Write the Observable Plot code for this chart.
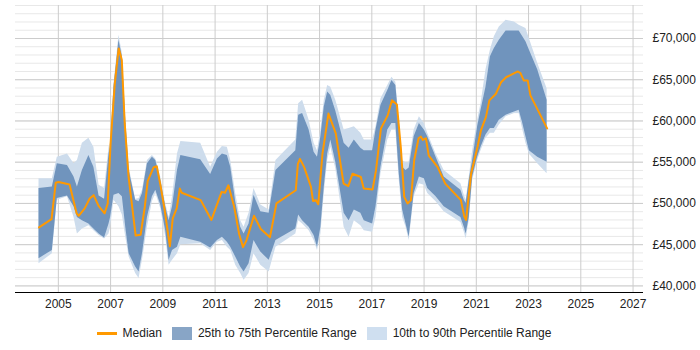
<!DOCTYPE html>
<html><head><meta charset="utf-8">
<script src="https://cdn.jsdelivr.net/npm/d3@7"></script>
<script src="https://cdn.jsdelivr.net/npm/@observablehq/plot@0.6"></script>
<style>
body{margin:0;background:#fff;font-family:"Liberation Sans",Arial,sans-serif;}
#legend{display:flex;justify-content:center;align-items:center;width:628px;margin-left:15px;height:30px;font-size:12px;color:#222;}
#legend .sw{display:inline-block;width:20px;height:13px;margin-right:6px;}
#legend .ln{height:3px;background:#ff9900;}
#legend .tx{margin-right:10px;}
</style></head>
<body>
<div id="chart"></div>
<div id="legend">
<span class="sw ln"></span><span class="tx">Median</span>
<span class="sw" style="background:#88a5c6"></span><span class="tx">25th to 75th Percentile Range</span>
<span class="sw" style="background:#cfdff0"></span><span class="tx">10th to 90th Percentile Range</span>
</div>
<script>
const medianYears = [2004.26,2004.74,2004.90,2005.01,2005.43,2005.70,2005.78,2006.01,2006.20,2006.35,2006.54,2006.77,2006.89,2007.00,2007.16,2007.31,2007.43,2007.54,2007.69,2007.96,2008.15,2008.31,2008.42,2008.65,2008.77,2008.92,2009.07,2009.27,2009.38,2009.53,2009.65,2009.72,2010.45,2010.57,2010.86,2011.25,2011.38,2011.51,2011.73,2011.92,2012.07,2012.20,2012.49,2012.75,2013.10,2013.35,2014.09,2014.17,2014.25,2014.41,2014.67,2014.75,2014.86,2014.95,2015.11,2015.34,2015.62,2015.92,2016.10,2016.26,2016.58,2016.69,2017.03,2017.16,2017.35,2017.61,2017.77,2017.96,2018.11,2018.24,2018.37,2018.50,2018.62,2018.79,2018.88,2018.95,2019.07,2019.18,2019.52,2019.81,2020.41,2020.54,2020.61,2020.80,2021.05,2021.18,2021.37,2021.50,2021.75,2021.95,2022.14,2022.59,2022.69,2022.82,2022.97,2023.07,2023.71];
const median = [47100,48100,52500,52600,52300,48800,48500,49400,50600,51000,49700,48800,50000,57300,64500,68800,67400,59700,53200,46100,46200,49600,52700,54400,54500,52000,49200,44800,48200,49400,51800,51300,50400,49700,48000,51400,51300,52200,49600,46300,44700,45500,48500,46900,45900,50000,51600,54800,55400,54400,52000,50300,50400,49900,56000,60900,58500,52400,52100,53600,53200,51800,51700,54000,59100,60700,62500,62000,56800,50800,50000,50400,55200,57900,58100,57700,57900,55800,54400,52400,50400,48400,48000,53600,56900,58900,60500,62500,63300,64700,65300,66000,65800,64900,64900,63100,59100];

const bandYears = [2004.26,2004.77,2004.96,2005.35,2005.60,2005.73,2005.92,2006.17,2006.36,2006.56,2006.77,2006.94,2007.00,2007.13,2007.32,2007.45,2007.58,2007.71,2007.96,2008.09,2008.22,2008.41,2008.60,2008.73,2008.92,2009.11,2009.24,2009.37,2009.56,2009.69,2010.45,2010.83,2011.09,2011.28,2011.47,2011.60,2011.79,2011.98,2012.11,2012.30,2012.49,2012.75,2013.07,2013.33,2014.09,2014.20,2014.35,2014.60,2014.79,2014.92,2015.05,2015.18,2015.31,2015.43,2015.62,2015.94,2016.13,2016.33,2016.58,2016.71,2017.03,2017.16,2017.35,2017.61,2017.77,2017.92,2018.05,2018.18,2018.31,2018.43,2018.62,2018.82,2019.01,2019.14,2019.46,2019.77,2020.41,2020.54,2020.61,2020.73,2020.86,2021.05,2021.18,2021.37,2021.54,2021.69,2021.88,2022.14,2022.46,2022.64,2022.78,2022.90,2023.03,2023.35,2023.71];
const p90 = [53000,53000,55600,56000,54800,55200,57300,57900,56800,52200,51800,56800,57300,64500,70400,68200,60500,54400,50500,50600,51600,55200,55800,55400,53200,50000,48300,50800,56000,57500,57300,54400,56200,56900,56800,55200,51200,47900,47100,48800,51800,49800,49200,55200,57700,62100,62500,60100,57300,56400,58900,62500,64300,64100,62500,58900,59100,59300,58500,57700,57700,59300,62700,64300,65300,64700,60100,55200,54900,55000,58900,60500,59700,58500,56000,54000,52400,51000,50400,53200,56400,60100,62100,66200,68600,70200,71400,72200,72000,71600,71400,71200,70000,67000,63900];
const p75 = [51800,52000,54800,54600,53200,52000,54000,55800,54400,50900,50500,56000,56800,64100,69800,67800,60100,54000,50400,50200,51200,54800,55600,55200,52800,49600,47900,49600,54000,55800,55300,53500,55400,56000,55800,54400,50200,47100,46300,47500,51000,49000,48800,54000,56400,60700,60900,58900,56200,55600,58100,61700,63500,63100,61200,57300,56700,57700,56700,56400,56400,58900,61900,63700,64900,64300,59700,54400,54000,54300,58100,59700,58900,58100,55600,53200,51600,50400,50000,52800,55200,59300,61300,64100,67800,68800,69800,70900,70900,70900,70200,69600,68600,66200,62500];
const p25 = [43300,44300,50600,50900,49600,48300,47900,47500,46900,46300,45800,47500,48300,51000,51200,50800,47100,43900,42300,41700,43900,48300,50800,51600,49800,46700,43100,44300,44700,45900,45300,44600,45500,45900,45300,44700,43500,42300,41700,42700,45500,44100,43100,45500,46900,48600,47900,47100,46100,44700,47100,52000,56000,57700,55000,48800,47900,49200,48800,47900,47500,49600,54400,58900,59700,59700,53600,49200,47500,45900,51200,53200,53000,51800,50800,49600,48300,47100,46300,48300,53200,55600,56800,58300,59100,59100,60100,60700,61100,61300,59700,58100,56400,55600,55000];
const p10 = [42700,43900,50400,50800,48300,46300,46900,47300,46700,46100,45700,46300,47100,50400,49600,48600,45900,43500,41500,40900,43100,47100,50200,51200,49400,45900,42500,43100,43900,45000,45100,44300,45300,45500,44700,44300,42500,41500,40700,41500,43900,42500,41700,44700,46300,47900,47500,46700,45500,44300,46300,51200,55200,56800,54200,47100,45900,47900,47300,46700,46500,48300,53600,57700,58900,58900,52800,48300,47100,45500,50800,52400,52200,51200,50200,49000,47700,46500,45700,47900,52800,55200,56400,57900,58500,58500,59500,60500,60900,60900,58900,57300,56000,54800,53600];

const xTicks = [2005,2007,2009,2011,2013,2015,2017,2019,2021,2023,2025,2027];
const yTicks = [40000,45000,50000,55000,60000,65000,70000];
const yMinor = d3.range(40000, 74001, 1000);

const band = bandYears.map((year, i) => ({year, p10: p10[i], p25: p25[i], p75: p75[i], p90: p90[i]}));
const med = medianYears.map((year, i) => ({year, value: median[i]}));

const chart = Plot.plot({
  width: 700, height: 318,
  marginLeft: 15, marginRight: 57, marginTop: 5, marginBottom: 26,
  style: {fontFamily: "'Liberation Sans', Arial, sans-serif", fontSize: "12px", color: "#222", background: "#fff"},
  x: {domain: [2003.36, 2027.4], label: null},
  y: {domain: [39200, 74000], label: null},
  marks: [
    Plot.ruleY(yMinor, {stroke: "#e8e8e8"}),
    Plot.ruleY(yTicks, {stroke: "#cccccc"}),
    Plot.ruleX(xTicks, {stroke: "#cccccc"}),
    Plot.areaY(band, {x: "year", y1: "p10", y2: "p90", fill: "#cddcec"}),
    Plot.areaY(band, {x: "year", y1: "p25", y2: "p75", fill: "#7094bd"}),
    Plot.line(med, {x: "year", y: "value", stroke: "#ff9900", strokeWidth: 2}),
    Plot.ruleY([39200], {stroke: "#000"}),
    Plot.axisX({ticks: xTicks, tickFormat: d => String(d), tickSize: 0, tickPadding: 7, label: null}),
    Plot.axisY({anchor: "right", ticks: yTicks, tickFormat: d => "£" + d3.format(",")(d), tickSize: 0, tickPadding: 9, label: null})
  ]
});
document.getElementById("chart").appendChild(chart);
</script>
</body></html>
